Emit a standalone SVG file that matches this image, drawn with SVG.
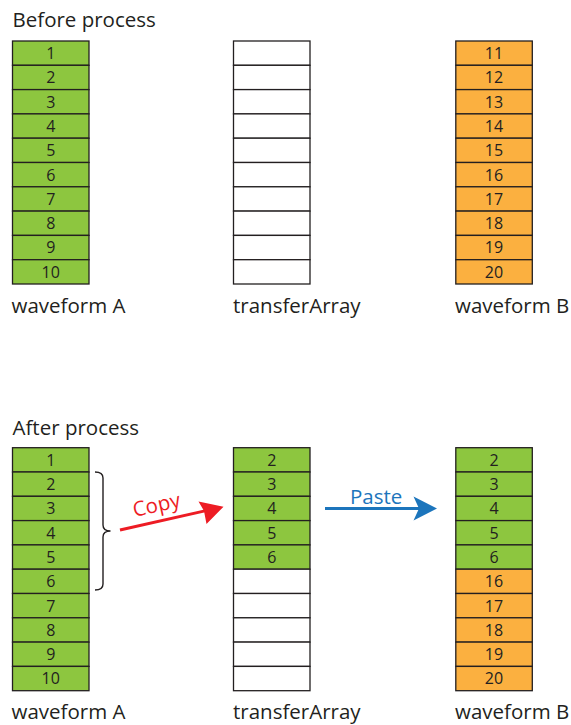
<svg xmlns="http://www.w3.org/2000/svg" width="571" height="725" viewBox="0 0 571 725">
  <style>
    .lbl { font-family: "Open Sans", "Liberation Sans", sans-serif; font-size: 20.5px; fill: #231f20; }
    .num { font-family: "Open Sans", "Liberation Sans", sans-serif; font-size: 16px; fill: #231f20; text-anchor: middle; }
    .cell { stroke: #231f20; stroke-width: 1.3; }
    .g { fill: #8dc63f; }
    .o { fill: #fbb040; }
    .w { fill: #ffffff; }
  </style>

  <rect width="571" height="725" fill="#ffffff"/>

  <text class="lbl" x="12.5" y="27">Before process</text>
  <text class="lbl" x="12.5" y="435">After process</text>

  <!-- Before: waveform A -->
  <g id="before-waveformA">
    <rect class="cell g" x="12.5" y="41" width="76.5" height="24.3"/>
    <rect class="cell g" x="12.5" y="65.3" width="76.5" height="24.3"/>
    <rect class="cell g" x="12.5" y="89.6" width="76.5" height="24.3"/>
    <rect class="cell g" x="12.5" y="113.9" width="76.5" height="24.3"/>
    <rect class="cell g" x="12.5" y="138.2" width="76.5" height="24.3"/>
    <rect class="cell g" x="12.5" y="162.5" width="76.5" height="24.3"/>
    <rect class="cell g" x="12.5" y="186.8" width="76.5" height="24.3"/>
    <rect class="cell g" x="12.5" y="211.1" width="76.5" height="24.3"/>
    <rect class="cell g" x="12.5" y="235.4" width="76.5" height="24.3"/>
    <rect class="cell g" x="12.5" y="259.7" width="76.5" height="24.3"/>
    <text class="num" x="50.75" y="59">1</text>
    <text class="num" x="50.75" y="83.3">2</text>
    <text class="num" x="50.75" y="107.6">3</text>
    <text class="num" x="50.75" y="131.9">4</text>
    <text class="num" x="50.75" y="156.2">5</text>
    <text class="num" x="50.75" y="180.5">6</text>
    <text class="num" x="50.75" y="204.8">7</text>
    <text class="num" x="50.75" y="229.1">8</text>
    <text class="num" x="50.75" y="253.4">9</text>
    <text class="num" x="50.75" y="277.7">10</text>
    <text class="lbl" x="11.5" y="313">waveform A</text>
  </g>

  <!-- Before: transferArray (empty) -->
  <g id="before-transferArray">
    <rect class="cell w" x="233.5" y="41" width="76.5" height="24.3"/>
    <rect class="cell w" x="233.5" y="65.3" width="76.5" height="24.3"/>
    <rect class="cell w" x="233.5" y="89.6" width="76.5" height="24.3"/>
    <rect class="cell w" x="233.5" y="113.9" width="76.5" height="24.3"/>
    <rect class="cell w" x="233.5" y="138.2" width="76.5" height="24.3"/>
    <rect class="cell w" x="233.5" y="162.5" width="76.5" height="24.3"/>
    <rect class="cell w" x="233.5" y="186.8" width="76.5" height="24.3"/>
    <rect class="cell w" x="233.5" y="211.1" width="76.5" height="24.3"/>
    <rect class="cell w" x="233.5" y="235.4" width="76.5" height="24.3"/>
    <rect class="cell w" x="233.5" y="259.7" width="76.5" height="24.3"/>
    <text class="lbl" x="233" y="313">transferArray</text>
  </g>

  <!-- Before: waveform B -->
  <g id="before-waveformB">
    <rect class="cell o" x="455.8" y="41" width="76.5" height="24.3"/>
    <rect class="cell o" x="455.8" y="65.3" width="76.5" height="24.3"/>
    <rect class="cell o" x="455.8" y="89.6" width="76.5" height="24.3"/>
    <rect class="cell o" x="455.8" y="113.9" width="76.5" height="24.3"/>
    <rect class="cell o" x="455.8" y="138.2" width="76.5" height="24.3"/>
    <rect class="cell o" x="455.8" y="162.5" width="76.5" height="24.3"/>
    <rect class="cell o" x="455.8" y="186.8" width="76.5" height="24.3"/>
    <rect class="cell o" x="455.8" y="211.1" width="76.5" height="24.3"/>
    <rect class="cell o" x="455.8" y="235.4" width="76.5" height="24.3"/>
    <rect class="cell o" x="455.8" y="259.7" width="76.5" height="24.3"/>
    <text class="num" x="494" y="59">11</text>
    <text class="num" x="494" y="83.3">12</text>
    <text class="num" x="494" y="107.6">13</text>
    <text class="num" x="494" y="131.9">14</text>
    <text class="num" x="494" y="156.2">15</text>
    <text class="num" x="494" y="180.5">16</text>
    <text class="num" x="494" y="204.8">17</text>
    <text class="num" x="494" y="229.1">18</text>
    <text class="num" x="494" y="253.4">19</text>
    <text class="num" x="494" y="277.7">20</text>
    <text class="lbl" x="455" y="313">waveform B</text>
  </g>

  <!-- After: waveform A -->
  <g id="after-waveformA">
    <rect class="cell g" x="12.5" y="447.7" width="76.5" height="24.3"/>
    <rect class="cell g" x="12.5" y="472" width="76.5" height="24.3"/>
    <rect class="cell g" x="12.5" y="496.3" width="76.5" height="24.3"/>
    <rect class="cell g" x="12.5" y="520.6" width="76.5" height="24.3"/>
    <rect class="cell g" x="12.5" y="544.9" width="76.5" height="24.3"/>
    <rect class="cell g" x="12.5" y="569.2" width="76.5" height="24.3"/>
    <rect class="cell g" x="12.5" y="593.5" width="76.5" height="24.3"/>
    <rect class="cell g" x="12.5" y="617.8" width="76.5" height="24.3"/>
    <rect class="cell g" x="12.5" y="642.1" width="76.5" height="24.3"/>
    <rect class="cell g" x="12.5" y="666.4" width="76.5" height="24.3"/>
    <text class="num" x="50.75" y="465.7">1</text>
    <text class="num" x="50.75" y="490">2</text>
    <text class="num" x="50.75" y="514.3">3</text>
    <text class="num" x="50.75" y="538.6">4</text>
    <text class="num" x="50.75" y="562.9">5</text>
    <text class="num" x="50.75" y="587.2">6</text>
    <text class="num" x="50.75" y="611.5">7</text>
    <text class="num" x="50.75" y="635.8">8</text>
    <text class="num" x="50.75" y="660.1">9</text>
    <text class="num" x="50.75" y="684.4">10</text>
    <text class="lbl" x="11.5" y="719">waveform A</text>
  </g>

  <!-- After: transferArray -->
  <g id="after-transferArray">
    <rect class="cell g" x="233.5" y="447.7" width="76.5" height="24.3"/>
    <rect class="cell g" x="233.5" y="472" width="76.5" height="24.3"/>
    <rect class="cell g" x="233.5" y="496.3" width="76.5" height="24.3"/>
    <rect class="cell g" x="233.5" y="520.6" width="76.5" height="24.3"/>
    <rect class="cell g" x="233.5" y="544.9" width="76.5" height="24.3"/>
    <rect class="cell w" x="233.5" y="569.2" width="76.5" height="24.3"/>
    <rect class="cell w" x="233.5" y="593.5" width="76.5" height="24.3"/>
    <rect class="cell w" x="233.5" y="617.8" width="76.5" height="24.3"/>
    <rect class="cell w" x="233.5" y="642.1" width="76.5" height="24.3"/>
    <rect class="cell w" x="233.5" y="666.4" width="76.5" height="24.3"/>
    <text class="num" x="271.75" y="465.7">2</text>
    <text class="num" x="271.75" y="490">3</text>
    <text class="num" x="271.75" y="514.3">4</text>
    <text class="num" x="271.75" y="538.6">5</text>
    <text class="num" x="271.75" y="562.9">6</text>
    <text class="lbl" x="233" y="719">transferArray</text>
  </g>

  <!-- After: waveform B -->
  <g id="after-waveformB">
    <rect class="cell g" x="455.8" y="447.7" width="76.5" height="24.3"/>
    <rect class="cell g" x="455.8" y="472" width="76.5" height="24.3"/>
    <rect class="cell g" x="455.8" y="496.3" width="76.5" height="24.3"/>
    <rect class="cell g" x="455.8" y="520.6" width="76.5" height="24.3"/>
    <rect class="cell g" x="455.8" y="544.9" width="76.5" height="24.3"/>
    <rect class="cell o" x="455.8" y="569.2" width="76.5" height="24.3"/>
    <rect class="cell o" x="455.8" y="593.5" width="76.5" height="24.3"/>
    <rect class="cell o" x="455.8" y="617.8" width="76.5" height="24.3"/>
    <rect class="cell o" x="455.8" y="642.1" width="76.5" height="24.3"/>
    <rect class="cell o" x="455.8" y="666.4" width="76.5" height="24.3"/>
    <text class="num" x="494" y="465.7">2</text>
    <text class="num" x="494" y="490">3</text>
    <text class="num" x="494" y="514.3">4</text>
    <text class="num" x="494" y="538.6">5</text>
    <text class="num" x="494" y="562.9">6</text>
    <text class="num" x="494" y="587.2">16</text>
    <text class="num" x="494" y="611.5">17</text>
    <text class="num" x="494" y="635.8">18</text>
    <text class="num" x="494" y="660.1">19</text>
    <text class="num" x="494" y="684.4">20</text>
    <text class="lbl" x="455" y="719">waveform B</text>
  </g>

  <!-- Connectors: selection brace, copy and paste arrows -->
  <g id="connectors">
    <path d="M95,472 Q103,472 103,478 L103,525 Q103,531 110.5,531 Q103,531 103,537 L103,584 Q103,590 95,590" fill="none" stroke="#231f20" stroke-width="1.4"/>

    <line x1="120" y1="530" x2="206" y2="510.6" stroke="#ed1c24" stroke-width="3"/>
    <polygon points="223.5,506.7 198.5,501.5 204,510.9 206.5,524" fill="#ed1c24"/>
    <text x="134.5" y="517" transform="rotate(-12.6 134.5 517)" font-family="'Open Sans', 'Liberation Sans', sans-serif" font-size="20.5" fill="#ed1c24">Copy</text>

    <line x1="325" y1="508.5" x2="420" y2="508.5" stroke="#1c75bc" stroke-width="3"/>
    <polygon points="437,508.5 413.5,496.5 419,508.5 413.5,520.5" fill="#1c75bc"/>
    <text x="350" y="503.5" font-family="'Open Sans', 'Liberation Sans', sans-serif" font-size="20.5" fill="#1c75bc">Paste</text>
  </g>
</svg>
